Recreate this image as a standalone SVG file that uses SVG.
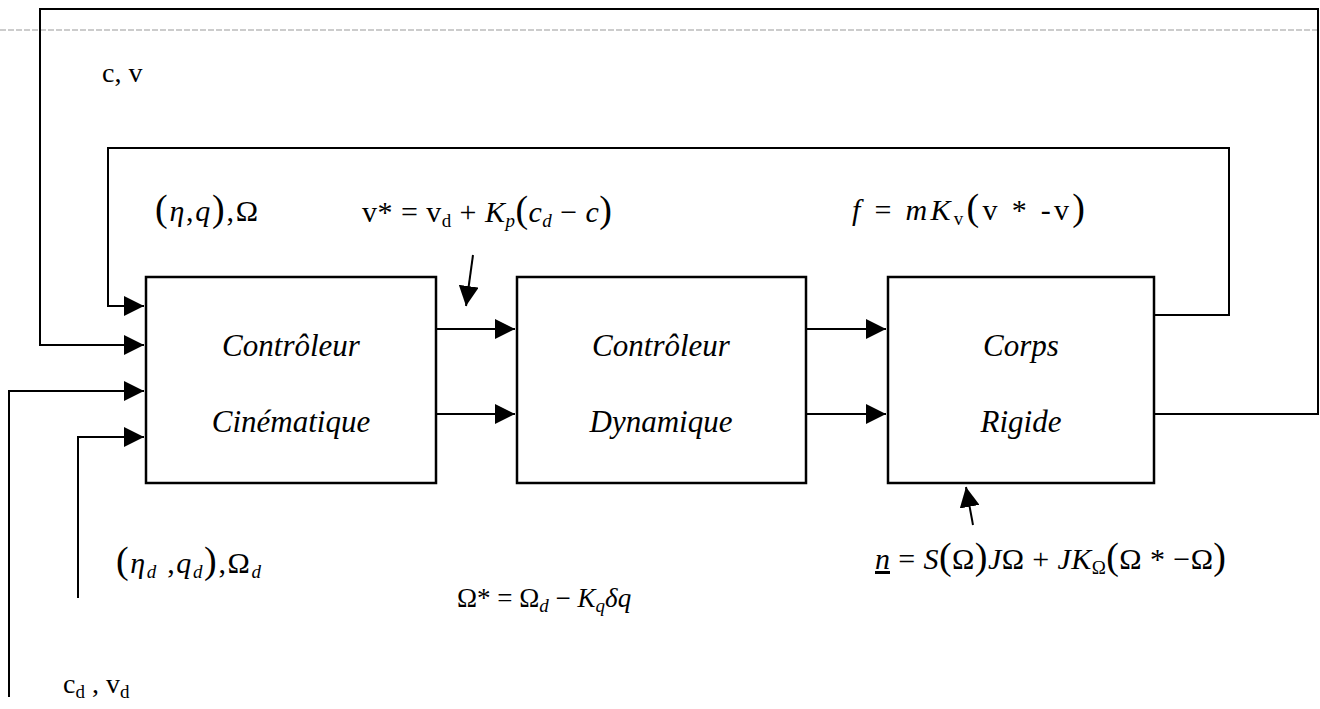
<svg xmlns="http://www.w3.org/2000/svg" width="1320" height="709" viewBox="0 0 1320 709">
<style>
.box{fill:#fff;stroke:#000;stroke-width:2.5}
.ln{fill:none;stroke:#000;stroke-width:2}
.lbl{font-family:"Liberation Serif",serif;font-style:italic;font-size:31px;fill:#000;text-anchor:middle}
.eq{font-family:"Liberation Serif",serif;font-size:30px;fill:#000}
.i{font-style:italic}
.sub{font-size:19px}
.big{font-size:38px}
</style>
<defs>
<marker id="ah" markerUnits="userSpaceOnUse" markerWidth="20" markerHeight="20" refX="20" refY="10" orient="auto">
<path d="M0,0 L20,10 L0,20 Z" fill="#000"/>
</marker>
</defs>
<rect width="1320" height="709" fill="#fff"/>
<line x1="0" y1="30" x2="1318" y2="30" stroke="#999" stroke-width="1" stroke-dasharray="6,2"/>
<g id="connectors">
<path class="ln" d="M1154,414 H1318 V9 H40 V345 H144" marker-end="url(#ah)"/>
<path class="ln" d="M1154,315 H1229 V148 H108 V306 H144" marker-end="url(#ah)"/>
<path class="ln" d="M9,697 V391 H144" marker-end="url(#ah)"/>
<path class="ln" d="M78,598 V437 H144" marker-end="url(#ah)"/>
<path class="ln" d="M437,329 H515" marker-end="url(#ah)"/>
<path class="ln" d="M437,414 H515" marker-end="url(#ah)"/>
<path class="ln" d="M807,329 H886" marker-end="url(#ah)"/>
<path class="ln" d="M807,414 H886" marker-end="url(#ah)"/>
<path class="ln" d="M473,255 L466,306" marker-end="url(#ah)"/>
<path class="ln" d="M973,525 L966,487" marker-end="url(#ah)"/>
</g>
<g id="cinematique">
<rect class="box" x="146" y="277" width="290" height="206"/>
<text class="lbl" x="291" y="356">Contrôleur</text>
<text class="lbl" x="291" y="432">Cinématique</text>
</g>
<g id="dynamique">
<rect class="box" x="517" y="277" width="289" height="206"/>
<text class="lbl" x="661" y="356">Contrôleur</text>
<text class="lbl" x="661" y="432">Dynamique</text>
</g>
<g id="corps">
<rect class="box" x="888" y="277" width="266" height="206"/>
<text class="lbl" x="1021" y="356">Corps</text>
<text class="lbl" x="1021" y="432">Rigide</text>
</g>
<g id="labels">
<text class="eq" x="102" y="82" style="font-size:28px">c, v</text>
<text class="eq" x="155" y="221" textLength="103" lengthAdjust="spacing"><tspan class="big">(</tspan><tspan class="i">η</tspan>,<tspan class="i">q</tspan><tspan class="big">)</tspan>,Ω</text>
<text class="eq" x="362" y="222" textLength="250" lengthAdjust="spacing">v* = v<tspan class="sub" dy="5">d</tspan><tspan dy="-5"> + </tspan><tspan class="i">K</tspan><tspan class="sub i" dy="5">p</tspan><tspan class="big" dy="-5">(</tspan><tspan class="i">c</tspan><tspan class="sub i" dy="5">d</tspan><tspan dy="-5"> − </tspan><tspan class="i">c</tspan><tspan class="big">)</tspan></text>
<text class="eq" x="852" y="220" textLength="233" lengthAdjust="spacing"><tspan class="i">f</tspan> = <tspan class="i">mK</tspan><tspan class="sub" dy="5">v</tspan><tspan class="big" dy="-5">(</tspan>v * -v<tspan class="big">)</tspan></text>
<text class="eq" x="116" y="573" textLength="145" lengthAdjust="spacing"><tspan class="big">(</tspan><tspan class="i">η</tspan><tspan class="sub i" dy="5">d</tspan><tspan dy="-5"> ,</tspan><tspan class="i">q</tspan><tspan class="sub i" dy="5">d</tspan><tspan class="big" dy="-5">)</tspan>,Ω<tspan class="sub i" dy="5">d</tspan></text>
<text class="eq" x="457" y="607" style="font-size:27px">Ω* = Ω<tspan class="sub i" dy="5">d</tspan><tspan dy="-5"> − </tspan><tspan class="i">K</tspan><tspan class="sub i" dy="5">q</tspan><tspan class="i" dy="-5">δq</tspan></text>
<text class="eq" x="875" y="569" textLength="351" lengthAdjust="spacing"><tspan class="i" text-decoration="underline">n</tspan> = <tspan class="i">S</tspan><tspan class="big">(</tspan>Ω<tspan class="big">)</tspan><tspan class="i">J</tspan>Ω + <tspan class="i">JK</tspan><tspan class="sub" dy="5">Ω</tspan><tspan class="big" dy="-5">(</tspan>Ω * −Ω<tspan class="big">)</tspan></text>
<text class="eq" x="63" y="693" style="font-size:28px">c<tspan class="sub" dy="5">d</tspan><tspan dy="-5"> , v</tspan><tspan class="sub" dy="5">d</tspan></text>
</g>
</svg>
